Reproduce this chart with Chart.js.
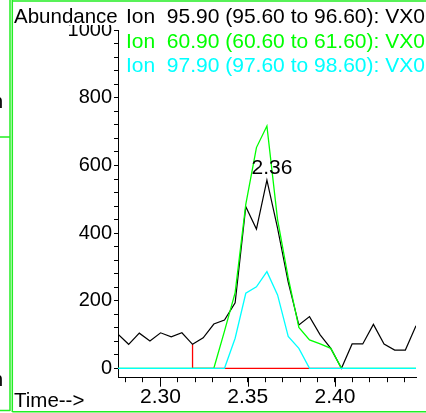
<!DOCTYPE html>
<html><head><meta charset="utf-8">
<script src="https://cdn.jsdelivr.net/npm/chart.js@4"></script>
<style>html,body{margin:0;padding:0;background:#fff;overflow:hidden}canvas{display:block}</style>
</head><body>
<canvas id="c" width="426" height="413"></canvas>
<script>
// ---- data ----
const scanTimes = [2.2757, 2.2818, 2.2879, 2.2940, 2.3001, 2.3062, 2.3123, 2.3184, 2.3245, 2.3306,
                   2.3367, 2.3428, 2.3489, 2.3550, 2.3610, 2.3671, 2.3732, 2.3793, 2.3854, 2.3915,
                   2.3976, 2.4037, 2.4098, 2.4159, 2.4220, 2.4281, 2.4342, 2.4403, 2.4464];
const ion9590 = [101, 71, 104, 81, 105, 93, 105, 71, 90, 131,
                 143, 194, 478, 412, 557, 415, 255, 128, 153, 99,
                 59, 0, 72, 72, 130, 72, 54, 54, 126];
const ion6090 = [0, 0, 0, 0, 0, 0, 0, 0, 0, 0,
                 110, 224, 485, 653, 717, 440, 268, 121, 84, 72,
                 59, 0, 0, 0, 0, 0, 0, 0, 0];
const ion9790 = [0, 0, 0, 0, 0, 0, 0, 0, 0, 0,
                 0, 89, 222, 241, 286, 217, 94, 59, 0, 0,
                 0, 0, 0, 0, 0, 0, 0, 0, 0];
const baselineTimes = [2.3184, 2.3184, 2.4037];
const baselineValues = [71, 0, 0];
const xMajorTicks = [2.30, 2.35, 2.40];
const xMinorTicks = [2.28, 2.29, 2.30, 2.31, 2.32, 2.33, 2.34, 2.35, 2.36, 2.37, 2.38, 2.39, 2.40, 2.41, 2.42, 2.43, 2.44];
const yMajorTicks = [0, 200, 400, 600, 800, 1000];
const yMinorTicks = [0, 40, 80, 120, 160, 200, 240, 280, 320, 360, 400, 440, 480, 520, 560, 600,
                     640, 680, 720, 760, 800, 840, 880, 920, 960, 1000];
const legendLabels = ['Ion  95.90 (95.60 to 96.60): VX0',
                      'Ion  60.90 (60.60 to 61.60): VX0',
                      'Ion  97.90 (97.60 to 98.60): VX0'];
const yAxisTitle = 'Abundance';
const xAxisTitle = 'Time-->';
const peakLabel = '2.36';
const peakTime = 2.3610;
const peakValue = 557;

// ---- chart ----
const FONT = '"Liberation Sans", Arial, Helvetica, sans-serif';
Chart.defaults.font.family = FONT;
Chart.defaults.color = '#000';
const toXY = (ts, vs) => ts.map((t, i) => ({x: t, y: vs[i]}));
const near = (a, b) => Math.abs(a - b) < 1e-6;

const decor = {
  id: 'decor',
  afterDraw(chart) {
    const ctx = chart.ctx, xs = chart.scales.x, ys = chart.scales.y;
    const ca = chart.chartArea;
    ctx.save();
    // longer major ticks on time axis
    ctx.strokeStyle = '#000'; ctx.lineWidth = 1;
    xMajorTicks.forEach(m => {
      const px = Math.round(xs.getPixelForValue(m)) + 0.5;
      ctx.beginPath(); ctx.moveTo(px, ca.bottom); ctx.lineTo(px, ca.bottom + 9); ctx.stroke();
    });
    // title area (clips top of highest tick label)
    ctx.fillStyle = '#fff';
    ctx.fillRect(13, 2, 105, 23);
    ctx.textAlign = 'left'; ctx.textBaseline = 'alphabetic';
    ctx.fillStyle = '#000';
    ctx.font = '20.5px ' + FONT;
    ctx.fillText(yAxisTitle, 14, 22.7);
    ctx.fillText(xAxisTitle, 14, 406.7);
    // legend
    const cols = ['#000000', '#00ff00', '#00ffff'];
    const bases = [23.3, 47.5, 71.7];
    ctx.font = '21px ' + FONT;
    legendLabels.forEach((l, i) => { ctx.fillStyle = cols[i]; ctx.fillText(l, 126, bases[i]); });
    // peak label
    ctx.fillStyle = '#000';
    ctx.font = '21px ' + FONT;
    ctx.textAlign = 'center';
    ctx.fillText(peakLabel, xs.getPixelForValue(peakTime) + 5, ys.getPixelForValue(peakValue) - 6);
    // fragments of neighbouring panel text
    ctx.textAlign = 'right';
    ctx.font = '20px ' + FONT;
    ctx.fillText('n', 3, 108);
    ctx.fillText('n', 3, 386);
    // panel borders
    ctx.strokeStyle = '#22ee22'; ctx.lineWidth = 1.5;
    ctx.beginPath();
    ctx.moveTo(12.3, 0); ctx.lineTo(12.3, 412);
    ctx.moveTo(12.3, 1); ctx.lineTo(426, 1);
    ctx.moveTo(12.3, 411.8); ctx.lineTo(426, 411.8);
    ctx.moveTo(10, 0); ctx.lineTo(10, 411);
    ctx.moveTo(0, 137); ctx.lineTo(10, 137);
    ctx.moveTo(0, 410.5); ctx.lineTo(10, 410.5);
    ctx.stroke();
    ctx.restore();
  }
};

new Chart(document.getElementById('c').getContext('2d'), {
  type: 'line',
  data: {
    datasets: [
      {label: 'baseline', data: toXY(baselineTimes, baselineValues), borderColor: '#ff0000', borderWidth: 1.3, order: 3},
      {label: legendLabels[0], data: toXY(scanTimes, ion9590), borderColor: '#000000', borderWidth: 1.2, order: 2},
      {label: legendLabels[1], data: toXY(scanTimes, ion6090), borderColor: '#00ff00', borderWidth: 1.3, order: 1},
      {label: legendLabels[2], data: toXY(scanTimes, ion9790), borderColor: '#00ffff', borderWidth: 1.3, order: 0}
    ]
  },
  options: {
    responsive: false,
    animation: false,
    events: [],
    layout: {padding: {top: 30.3, right: 10, bottom: 0, left: 0}},
    elements: {point: {radius: 0}, line: {tension: 0, fill: false}},
    plugins: {legend: {display: false}, tooltip: {enabled: false}, title: {display: false}},
    scales: {
      x: {
        type: 'linear', min: 2.2757, max: 2.4464,
        afterBuildTicks: s => { s.ticks = xMinorTicks.map(v => ({value: v})); },
        ticks: {autoSkip: false, maxRotation: 0, minRotation: 0, font: {size: 21}, padding: 2,
                callback: v => xMajorTicks.some(m => near(m, v)) ? v.toFixed(2) : ''},
        grid: {drawOnChartArea: false, drawTicks: true, tickLength: 4.5, tickColor: '#000', tickWidth: 1},
        border: {display: true, color: '#000', width: 1},
        afterFit: s => { s.height = 35.3; s.paddingLeft = 0; s.paddingRight = 0; }
      },
      y: {
        type: 'linear', min: -27.8, max: 1000,
        afterBuildTicks: s => { s.ticks = yMinorTicks.map(v => ({value: v})); },
        ticks: {autoSkip: false, font: {size: 20}, padding: 2,
                callback: v => yMajorTicks.includes(v) ? String(v) : ''},
        grid: {drawOnChartArea: false, drawTicks: true, tickLength: 4, tickColor: '#000', tickWidth: 1},
        border: {display: true, color: '#000', width: 1},
        afterFit: s => { s.width = 118; s.paddingTop = 0; s.paddingBottom = 0; }
      }
    }
  },
  plugins: [decor]
});
</script>
</body></html>
